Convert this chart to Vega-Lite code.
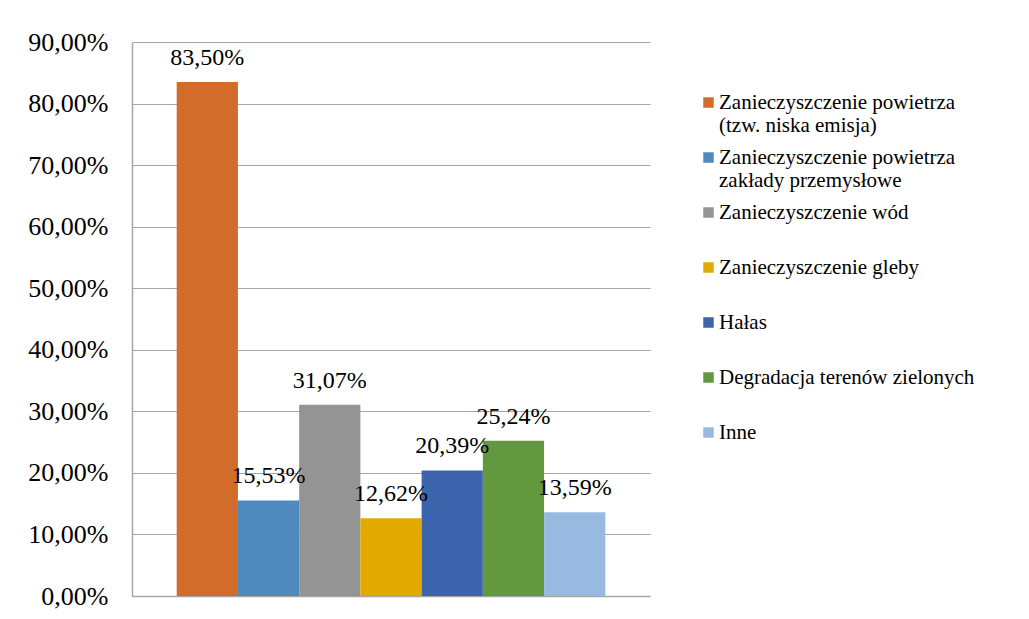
{
  "$schema": "https://vega.github.io/schema/vega-lite/v6.json",
  "autosize": "none",
  "width": 518,
  "height": 554,
  "padding": {"left": 132, "top": 42, "right": 379, "bottom": 23},
  "background": "white",
  "data": {
    "values": [
      {"kategoria": "Zanieczyszczenie powietrza|(tzw. niska emisja)", "order": 1, "wartosc": 0.835},
      {"kategoria": "Zanieczyszczenie powietrza|zakłady przemysłowe", "order": 2, "wartosc": 0.1553},
      {"kategoria": "Zanieczyszczenie wód|", "order": 3, "wartosc": 0.3107},
      {"kategoria": "Zanieczyszczenie gleby|", "order": 4, "wartosc": 0.1262},
      {"kategoria": "Hałas|", "order": 5, "wartosc": 0.2039},
      {"kategoria": "Degradacja terenów zielonych|", "order": 6, "wartosc": 0.2524},
      {"kategoria": "Inne|", "order": 7, "wartosc": 0.1359}
    ]
  },
  "encoding": {
    "x": {
      "field": "kategoria",
      "type": "nominal",
      "sort": {"field": "order"},
      "scale": {"paddingInner": 0, "paddingOuter": 0.73},
      "axis": {"labels": false, "ticks": false, "title": null, "domainColor": "#a6a6a6", "domainWidth": 1.5}
    },
    "y": {
      "field": "wartosc",
      "type": "quantitative",
      "scale": {"domain": [0, 0.9]},
      "axis": {
        "title": null,
        "format": ".2%",
        "values": [0, 0.1, 0.2, 0.3, 0.4, 0.5, 0.6, 0.7, 0.8, 0.9],
        "ticks": false,
        "labelPadding": 24,
        "labelFontSize": 26,
        "labelFont": "Times New Roman",
        "labelColor": "#000000",
        "domainColor": "#a6a6a6",
        "domainWidth": 1.5,
        "gridColor": "#a6a6a6",
        "gridWidth": 1.2
      }
    }
  },
  "layer": [
    {
      "mark": {"type": "bar"},
      "encoding": {
        "color": {
          "field": "kategoria",
          "type": "nominal",
          "sort": {"field": "order"},
          "scale": {"range": ["#D26C2B", "#4F89BD", "#949494", "#E2AA00", "#3C65AE", "#62993E", "#99BAE0"]},
          "legend": {
            "title": null,
            "orient": "none",
            "legendX": 566,
            "legendY": 50,
            "symbolType": "square",
            "symbolSize": 110,
            "symbolStrokeWidth": 0,
            "symbolOpacity": 1,
            "labelFont": "Times New Roman",
            "labelFontSize": 21,
            "labelColor": "#000000",
            "labelLimit": 400,
            "labelOffset": 0,
            "rowPadding": 10,
            "labelExpr": "split(datum.label, '|')"
          }
        }
      }
    },
    {
      "mark": {"type": "text", "baseline": "alphabetic", "dy": -17, "font": "Times New Roman", "fontSize": 24, "color": "#000000"},
      "encoding": {
        "text": {"field": "wartosc", "type": "quantitative", "format": ".2%"}
      }
    }
  ],
  "config": {
    "font": "Times New Roman",
    "locale": {"number": {"decimal": ",", "thousands": " ", "grouping": [3], "currency": ["", " zł"]}},
    "view": {"stroke": null}
  }
}
